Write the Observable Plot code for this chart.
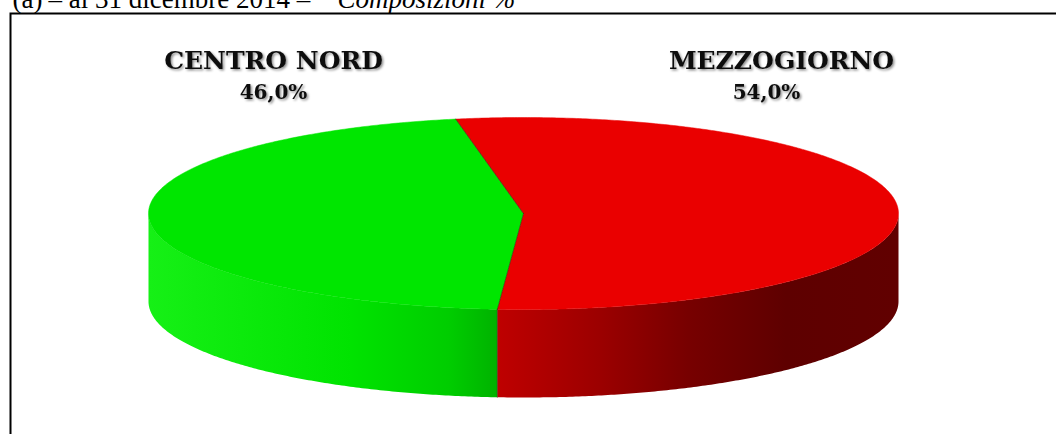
<!DOCTYPE html>
<html><head><meta charset="utf-8">
<script src="https://cdn.jsdelivr.net/npm/d3@7"></script>
<script src="https://cdn.jsdelivr.net/npm/@observablehq/plot@0.6"></script>
<style>body{margin:0;background:#fff;overflow:hidden}</style>
</head><body><div id="chart"></div>
<script>
// ---- data ----
const categories = ["CENTRO NORD", "MEZZOGIORNO"];
const shares = [46.0, 54.0];
const percentLabels = shares.map(v => v.toFixed(1).replace(".", ",") + "%");
const titleParts = ["(a)", "– al 31 dicembre 2014 –", "Composizioni %"];

// ---- styles ----
const topColors = ["#00e600", "#ea0000"];
// side shading stops: [fraction across pie width, colour]
const sideStops = [
  [[0, "#16f016"], [0.27, "#00e300"], [0.4, "#00cd00"], [0.47, "#00b000"]],
  [[0.46, "#c00000"], [0.6, "#9c0000"], [0.72, "#770000"], [0.85, "#5e0000"], [1, "#610000"]]
];

// ---- layout ----
const W = 1056, H = 434;
const pie = {cx: 523, cy: 213, rx: 375, ry: 96, depth: 88, rotation: 184};
const labelLayout = [
  {x1: 273, x2: 273, base1: 68, base2: 98},
  {x1: 781, x2: 766, base1: 68, base2: 98}
];
const titleLayout = {x: [12, 48, 337], base: 7, size: 27};

// ---- geometry from shares ----
const rad = d => d * Math.PI / 180;
const px = a => pie.cx + pie.rx * Math.sin(rad(a));
const py = a => pie.cy - pie.ry * Math.cos(rad(a));
let acc = pie.rotation;
const slices = categories.map((c, i) => { const a0 = acc; acc += shares[i] / 100 * 360; return {c, i, a0, a1: acc}; });

// side walls (front half only), one polygon per slice
const sides = categories.map(() => []);
let id = 0;
slices.forEach(s => {
  for (const k of [-360, 0, 360]) {
    const lo = Math.max(s.a0, 90 + k), hi = Math.min(s.a1, 270 + k);
    if (hi <= lo) continue;
    const key = id++;
    const n = Math.ceil((hi - lo) / 0.5);
    const topArc = d3.range(n + 1).map(j => lo + (hi - lo) * j / n);
    topArc.forEach(b => sides[s.i].push({id: key, x: px(b), y: py(b)}));
    topArc.slice().reverse().forEach(b => sides[s.i].push({id: key, x: px(b), y: py(b) + pie.depth}));
  }
});
// top faces
const tops = [];
slices.forEach(s => {
  const key = id++, color = topColors[s.i];
  tops.push({id: key, x: pie.cx, y: pie.cy, color});
  for (let b = s.a0; b < s.a1; b += 0.5) tops.push({id: key, x: px(b), y: py(b), color});
  tops.push({id: key, x: px(s.a1), y: py(s.a1), color});
});
// seams between slices
const seams = [];
slices.forEach(s => {
  const a = s.a0, key = id++;
  seams.push({id: key, x: pie.cx, y: pie.cy}, {id: key, x: px(a), y: py(a)});
  const m = ((a % 360) + 360) % 360;
  if (m > 90 && m < 270) {
    const k2 = id++;
    seams.push({id: k2, x: px(a), y: py(a)}, {id: k2, x: px(a), y: py(a) + pie.depth});
  }
});

const titleData = titleParts.map((t, i) => ({t, x: titleLayout.x[i], y: titleLayout.base - 0.32 * titleLayout.size, italic: i === 2}));
const labelData = [];
categories.forEach((c, i) => {
  labelData.push({t: c, x: labelLayout[i].x1, y: labelLayout[i].base1 - 0.32 * 25, size: 25});
  labelData.push({t: percentLabels[i], x: labelLayout[i].x2, y: labelLayout[i].base2 - 0.32 * 20, size: 20});
});

const chart = Plot.plot({
  width: W, height: H, margin: 0,
  style: {background: "#fff"},
  x: {domain: [0, W], range: [0, W], axis: null},
  y: {domain: [0, H], range: [0, H], axis: null},
  color: {type: "identity"},
  marks: [
    ...sides.map((pts, i) => Plot.line(pts, {x: "x", y: "y", z: "id", fill: `url(#sideGrad${i})`, stroke: "none", curve: "linear"})),
    Plot.line(tops, {x: "x", y: "y", z: "id", fill: "color", stroke: "color", strokeWidth: 0.5, curve: "linear"}),
    Plot.line(seams, {x: "x", y: "y", z: "id", stroke: "#1e3a10", strokeWidth: 0.8, strokeOpacity: 0.7}),
    Plot.frame({stroke: "#000", strokeWidth: 2, insetLeft: 10, insetTop: 13, insetRight: -6, insetBottom: -6}),
    Plot.text(titleData.filter(d => !d.italic), {x: "x", y: "y", text: "t", textAnchor: "start", fontSize: titleLayout.size, fontFamily: "Liberation Serif", fill: "#000"}),
    Plot.text(titleData.filter(d => d.italic), {x: "x", y: "y", text: "t", textAnchor: "start", fontSize: titleLayout.size, fontStyle: "italic", fontFamily: "Liberation Serif", fill: "#000"}),
    Plot.text(labelData, {x: "x", y: "y", text: "t", fontSize: "size", fontWeight: "bold", fontFamily: "DejaVu Serif", fill: "#111"})
  ]
});

const svg = d3.select(chart);
const defs = svg.insert("defs", ":first-child");
defs.html('<filter id="lblshadow" x="-10%" y="-30%" width="130%" height="180%"><feDropShadow dx="1.5" dy="1.5" stdDeviation="1.2" flood-color="#000" flood-opacity="0.45"/></filter>');
sideStops.forEach((stops, i) => {
  const g = defs.append("linearGradient").attr("id", `sideGrad${i}`).attr("gradientUnits", "userSpaceOnUse")
    .attr("x1", pie.cx - pie.rx).attr("x2", pie.cx + pie.rx).attr("y1", 0).attr("y2", 0);
  stops.forEach(([o, c]) => g.append("stop").attr("offset", o).attr("stop-color", c));
});
const textGroups = svg.selectAll('g[aria-label="text"]').nodes();
d3.select(textGroups[textGroups.length - 1]).attr("filter", "url(#lblshadow)");

document.getElementById("chart").appendChild(chart);
</script>
</body></html>
